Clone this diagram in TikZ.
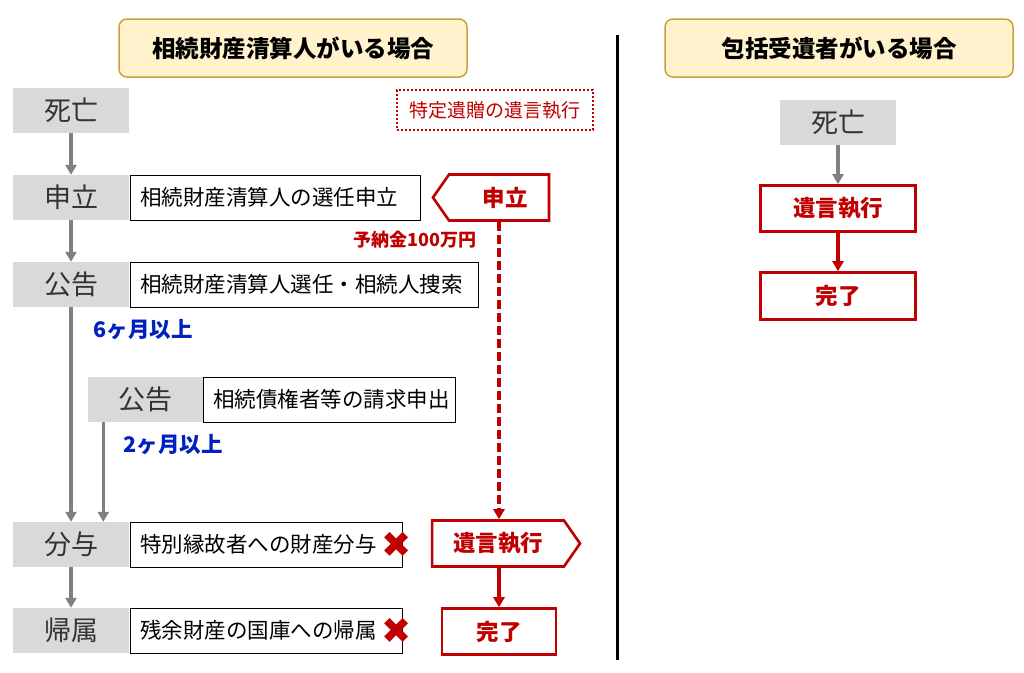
\documentclass[tikz,border=0pt]{standalone}
\usepackage{fontspec}
\setmainfont{Noto Sans CJK JP}
\newfontfamily\symfont{DejaVu Sans}
\usetikzlibrary{shapes.symbols,arrows.meta}
\definecolor{dred}{RGB}{192,0,0}
\definecolor{gbox}{RGB}{217,217,217}
\definecolor{gline}{RGB}{128,128,128}
\definecolor{ttlfill}{RGB}{255,242,204}
\definecolor{ttlline}{RGB}{201,162,60}
\definecolor{dblue}{RGB}{0,32,192}
\begin{document}
\begin{tikzpicture}
[x=1pt,y=-1pt,
ttl/.style={draw=ttlline,line width=1.5pt,fill=ttlfill,rounded corners=8pt,minimum width=348pt,minimum height=58pt,font=\fontsize{23.5}{25}\selectfont\bfseries},
gg/.style={fill=gbox,minimum width=116pt,minimum height=45pt,inner sep=0pt,font=\fontsize{27}{29}\selectfont,text=black!80},
tt/.style={draw=black,line width=0.8pt,fill=white,minimum height=45pt,inner xsep=10pt,inner ysep=0pt,anchor=west,align=left,font=\fontsize{21.5}{23}\selectfont},
rb/.style={draw=dred,line width=2.6pt,fill=white,text=dred,inner sep=0pt,minimum height=46pt,font=\fontsize{22.5}{24}\selectfont\bfseries},
garr/.style={-{Triangle[length=10pt,width=11pt]},gline,line width=3.5pt},
rarr/.style={-{Triangle[length=10pt,width=11pt]},dred,line width=3.5pt},
bl/.style={text=dblue,font=\fontsize{21.5}{23}\selectfont\bfseries,anchor=west},
xx/.style={text=dred,font=\fontsize{36}{36}\selectfont\symfont}]
\useasboundingbox (0,0) rectangle (1024,672);
%%%%% TITLES
\node[ttl] (ttlL) at (293,48) {相続財産清算人がいる場合};
\node[ttl] (ttlR) at (839,48) {包括受遺者がいる場合};
\coordinate (divT) at (617,35);
\coordinate (divB) at (617,660);
\draw[line width=3pt] (divT) -- (divB);
%%%%% LEFT FLOW
\node[gg] (shibou) at (71,110.5) {死亡};
\node[gg] (moushi) at (71,197.5) {申立};
\node[gg] (koku) at (71,284.5) {公告};
\node[gg] (kokuB) at (145.5,399.5) {公告};
\node[gg] (bunyo) at (71,544.5) {分与};
\node[gg] (kizoku) at (71,630.5) {帰属};
\node[tt,text width=270pt] (moushiT) at (130,197.5) {相続財産清算人の選任申立};
\node[tt,text width=328pt] (kokuT) at (130,284.5) {相続財産清算人選任・相続人捜索};
\node[tt,text width=232pt] (kokuBT) at (203,399.5) {相続債権者等の請求申出};
\node[tt,text width=252pt] (bunyoT) at (130,544.5) {特別縁故者への財産分与};
\node[tt,text width=252pt] (kizokuT) at (130,630.5) {残余財産の国庫への帰属};
\node[xx] (xA) at (397,545) {✖};
\node[xx] (xB) at (397,631) {✖};
\draw[garr] (shibou) -- (moushi);
\draw[garr] (moushi) -- (koku);
\draw[garr] (koku) -- (bunyo);
\draw[garr] (kokuB.south west) ++(16,0) coordinate (kbs) -- (kbs |- bunyo.north);
\draw[garr] (bunyo) -- (kizoku);
\node[bl] (six) at (90,330) {6ヶ月以上};
\node[bl] (two) at (120,445) {2ヶ月以上};
%%%%% RED FLOW
\node[draw=dred,line width=2pt,dotted,text=dred,minimum width=196pt,minimum height=40pt,inner sep=0pt,font=\fontsize{19}{21}\selectfont] (tokutei) at (495,110) {特定遺贈の遺言執行};
\node[rb,signal,signal to=west,signal pointer angle=110,minimum width=116pt] (rMoushi) at (499,197.5) {\hspace{12pt}申立};
\node[text=dred,font=\fontsize{18}{20}\selectfont\bfseries] (yonou) at (415,240) {予納金100万円};
\node[rb,signal,signal to=east,signal pointer angle=110,minimum width=148pt] (rIgon) at (498,543.5) {遺言執行\hspace{14pt}};
\node[rb,minimum width=114pt] (rKan) at (499,631.5) {完了};
\draw[rarr,dashed,dash pattern=on 9pt off 4pt] (rMoushi.south) -- (rIgon.north -| rMoushi.south);
\draw[rarr] (rIgon.south -| rKan.north) -- (rKan.north);
%%%%% RIGHT FLOW
\node[gg] (shibouR) at (838,122.5) {死亡};
\node[rb,minimum width=155pt] (igonR) at (838,208.5) {遺言執行};
\node[rb,minimum width=155pt,minimum height=47pt] (kanR) at (838,296) {完了};
\draw[garr] (shibouR) -- (igonR);
\draw[rarr] (igonR) -- (kanR);
\end{tikzpicture}
\end{document}
